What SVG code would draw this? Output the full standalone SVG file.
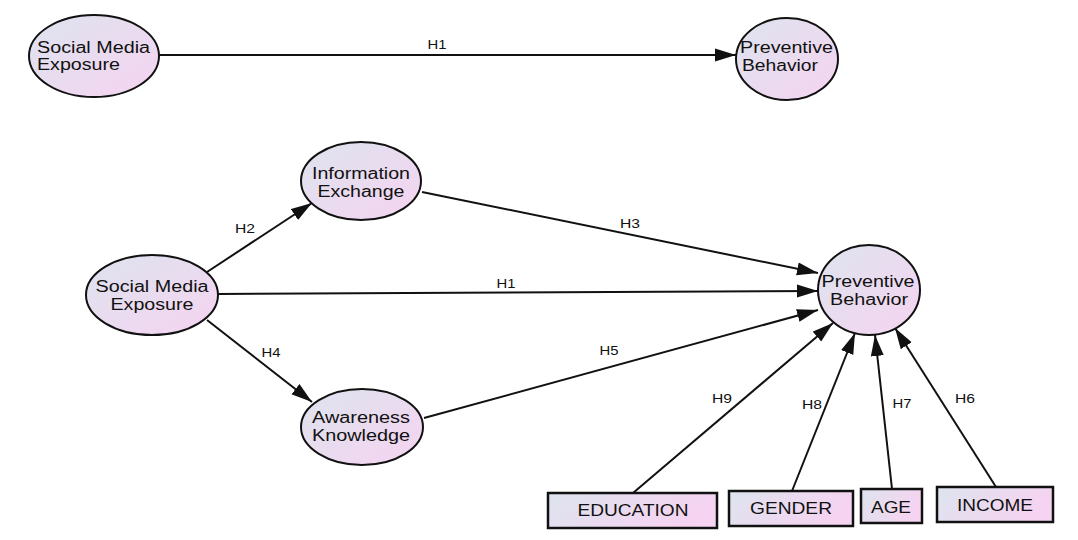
<svg xmlns="http://www.w3.org/2000/svg" width="1078" height="540" viewBox="0 0 1078 540">
<style>
.node{stroke:#111;stroke-width:2;fill:url(#g)}
.box{stroke:#111;stroke-width:2.5;fill:url(#gb)}
.t{font-family:"Liberation Sans",Arial,sans-serif;font-size:16px;fill:#111}
.c{text-anchor:middle}
.lbl{font-family:"Liberation Sans",Arial,sans-serif;font-size:13px;fill:#111;text-anchor:middle}
.e{stroke:#111;stroke-width:2;fill:none;marker-end:url(#ah)}
</style>
<defs>
<linearGradient id="g" x1="0" y1="0" x2="1" y2="1">
<stop offset="0" stop-color="#dde4ee"/>
<stop offset="1" stop-color="#f6d3f1"/>
</linearGradient>
<linearGradient id="gb" x1="0" y1="0" x2="1" y2="0.3">
<stop offset="0" stop-color="#dde4ee"/>
<stop offset="1" stop-color="#f6d3f1"/>
</linearGradient>
<marker id="ah" markerUnits="userSpaceOnUse" markerWidth="22" markerHeight="14" refX="21" refY="7" orient="auto">
<path d="M0,0.5 L21,7 L0,13.5 z" fill="#111"/>
</marker>
</defs>
<rect width="1078" height="540" fill="#fff"/>
<g id="connectors">
<line class="e" x1="159" y1="55" x2="736" y2="55"/>
<line class="e" x1="207" y1="272" x2="312" y2="203"/>
<line class="e" x1="207" y1="320" x2="312" y2="402"/>
<line class="e" x1="218" y1="294" x2="818" y2="291"/>
<line class="e" x1="422" y1="192" x2="818" y2="273"/>
<line class="e" x1="424" y1="418" x2="818" y2="310"/>
<line class="e" x1="633" y1="493" x2="833" y2="323"/>
<line class="e" x1="792" y1="491" x2="855" y2="333"/>
<line class="e" x1="892" y1="489" x2="875" y2="335"/>
<line class="e" x1="996" y1="487" x2="895" y2="328"/>
<text class="lbl" x="437" y="49" textLength="19" lengthAdjust="spacingAndGlyphs">H1</text>
<text class="lbl" x="245" y="233" textLength="20" lengthAdjust="spacingAndGlyphs">H2</text>
<text class="lbl" x="271" y="357" textLength="19" lengthAdjust="spacingAndGlyphs">H4</text>
<text class="lbl" x="630" y="228" textLength="20" lengthAdjust="spacingAndGlyphs">H3</text>
<text class="lbl" x="506" y="288" textLength="19" lengthAdjust="spacingAndGlyphs">H1</text>
<text class="lbl" x="609" y="355" textLength="19" lengthAdjust="spacingAndGlyphs">H5</text>
<text class="lbl" x="722" y="403" textLength="20" lengthAdjust="spacingAndGlyphs">H9</text>
<text class="lbl" x="812" y="409" textLength="20" lengthAdjust="spacingAndGlyphs">H8</text>
<text class="lbl" x="902" y="408" textLength="19" lengthAdjust="spacingAndGlyphs">H7</text>
<text class="lbl" x="965" y="403" textLength="20" lengthAdjust="spacingAndGlyphs">H6</text>
</g>
<g id="sme_top">
<ellipse class="node" cx="94" cy="56" rx="65" ry="41"/>
<text class="t" x="37" y="53" textLength="113" lengthAdjust="spacingAndGlyphs">Social Media</text>
<text class="t" x="37" y="70" textLength="83" lengthAdjust="spacingAndGlyphs">Exposure</text>
</g>
<g id="pb_top">
<ellipse class="node" cx="787" cy="59" rx="51" ry="41"/>
<text class="t" x="740" y="53" textLength="93" lengthAdjust="spacingAndGlyphs">Preventive</text>
<text class="t" x="742" y="71" textLength="76" lengthAdjust="spacingAndGlyphs">Behavior</text>
</g>
<g id="ie">
<ellipse class="node" cx="361" cy="181" rx="60" ry="39"/>
<text class="t c" x="361" y="179" textLength="98" lengthAdjust="spacingAndGlyphs">Information</text>
<text class="t c" x="361" y="197" textLength="87" lengthAdjust="spacingAndGlyphs">Exchange</text>
</g>
<g id="sme">
<ellipse class="node" cx="152" cy="295" rx="66" ry="40"/>
<text class="t c" x="152" y="292" textLength="113" lengthAdjust="spacingAndGlyphs">Social Media</text>
<text class="t c" x="152" y="310" textLength="83" lengthAdjust="spacingAndGlyphs">Exposure</text>
</g>
<g id="ak">
<ellipse class="node" cx="362" cy="427" rx="61" ry="38"/>
<text class="t c" x="361" y="423" textLength="98" lengthAdjust="spacingAndGlyphs">Awareness</text>
<text class="t c" x="361" y="441" textLength="98" lengthAdjust="spacingAndGlyphs">Knowledge</text>
</g>
<g id="pb">
<ellipse class="node" cx="869" cy="290" rx="51" ry="45"/>
<text class="t c" x="868" y="287" textLength="93" lengthAdjust="spacingAndGlyphs">Preventive</text>
<text class="t c" x="869" y="305" textLength="78" lengthAdjust="spacingAndGlyphs">Behavior</text>
</g>
<g id="education">
<rect class="box" x="548" y="493" width="169" height="35"/>
<text class="t c" x="633" y="516" textLength="111" lengthAdjust="spacingAndGlyphs">EDUCATION</text>
</g>
<g id="gender">
<rect class="box" x="729" y="491" width="124" height="35"/>
<text class="t c" x="791" y="514" textLength="82" lengthAdjust="spacingAndGlyphs">GENDER</text>
</g>
<g id="age">
<rect class="box" x="861" y="489" width="61" height="34"/>
<text class="t c" x="891" y="513" textLength="40" lengthAdjust="spacingAndGlyphs">AGE</text>
</g>
<g id="income">
<rect class="box" x="937" y="487" width="116" height="35"/>
<text class="t c" x="995" y="511" textLength="76" lengthAdjust="spacingAndGlyphs">INCOME</text>
</g>
</svg>
